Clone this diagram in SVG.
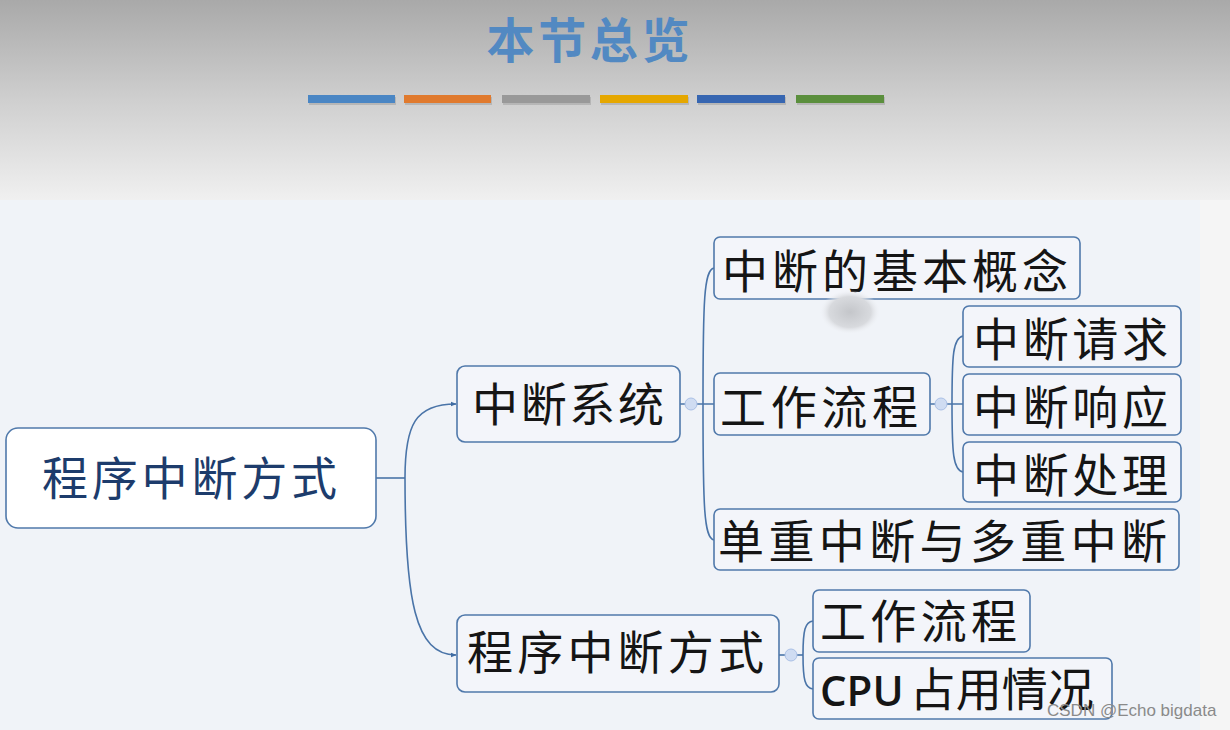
<svg xmlns="http://www.w3.org/2000/svg" width="1230" height="730" viewBox="0 0 1230 730">
  <defs>
    <linearGradient id="topbg" x1="0" y1="0" x2="0" y2="1">
      <stop offset="0" stop-color="#a9a9a9"/>
      <stop offset="0.5" stop-color="#cfcfcf"/>
      <stop offset="1" stop-color="#f0f0f0"/>
    </linearGradient>
    <radialGradient id="blob" cx="0.5" cy="0.5" r="0.5">
      <stop offset="0" stop-color="#c4c6ca"/>
      <stop offset="0.7" stop-color="#d8dade"/>
      <stop offset="1" stop-color="#eef0f4" stop-opacity="0"/>
    </radialGradient>
    <marker id="arrow" viewBox="0 0 10 10" refX="9" refY="5" markerWidth="6" markerHeight="6" orient="auto" markerUnits="userSpaceOnUse">
      <path d="M0,1 L10,5 L0,9 Z" fill="#3f6ca3"/>
    </marker>
    <style>
      .node rect { fill: #f3f5fa; stroke: #5079ab; stroke-width: 1.6; }
      .node text { font-family: "Noto Sans CJK SC", "Noto Sans", sans-serif; font-size: 46px; fill: #151515; }
      #root rect { fill: #ffffff; }
      #root text { fill: #1d3c6c; }
      .conn path { fill: none; stroke: #4a74a8; stroke-width: 1.6; }
      .dot { fill: #cfdcf2; stroke: #aac0e6; stroke-width: 1; }
      .bar-shadow { fill: #000; opacity: 0.12; }
    </style>
  </defs>

  <!-- background -->
  <rect x="0" y="0" width="1230" height="730" fill="#f4f4f4"/>
  <rect x="0" y="0" width="1230" height="200" fill="url(#topbg)"/>
  <rect x="0" y="200" width="1200" height="530" fill="#f0f3f8"/>
  <rect x="1200" y="200" width="30" height="530" fill="#f5f5f5"/>

  <!-- title -->
  <g id="title">
    <text x="588" y="58" text-anchor="middle" font-family="Noto Sans CJK SC, sans-serif" font-size="48" font-weight="700" fill="#5289c2" textLength="203" lengthAdjust="spacing">本节总览</text>
  </g>
  <g id="bars">
    <rect class="bar-shadow" x="309" y="97" width="87" height="8"/>
    <rect x="308" y="95" width="87" height="8" fill="#4a86c4"/>
    <rect class="bar-shadow" x="405" y="97" width="87" height="8"/>
    <rect x="404" y="95" width="87" height="8" fill="#e07a2e"/>
    <rect class="bar-shadow" x="503" y="97" width="88" height="8"/>
    <rect x="502" y="95" width="88" height="8" fill="#999999"/>
    <rect class="bar-shadow" x="601" y="97" width="88" height="8"/>
    <rect x="600" y="95" width="88" height="8" fill="#e5a700"/>
    <rect class="bar-shadow" x="698" y="97" width="88" height="8"/>
    <rect x="697" y="95" width="88" height="8" fill="#3766b1"/>
    <rect class="bar-shadow" x="797" y="97" width="88" height="8"/>
    <rect x="796" y="95" width="88" height="8" fill="#5b8f3d"/>
  </g>

  <!-- connectors -->
  <g id="connectors" class="conn">
    <path d="M376,478 H405"/>
    <path d="M405,478 C405,425 415,404 456,404" marker-end="url(#arrow)"/>
    <path d="M405,478 C405,600 415,655 456,655" marker-end="url(#arrow)"/>

    <path d="M680,404 H714"/>
    <path d="M703,404 C703,300 704,270 714,268"/>
    <path d="M703,404 C703,508 704,538 714,540"/>

    <path d="M930,404 H963"/>
    <path d="M952,404 C952,355 953,338 963,336"/>
    <path d="M952,404 C952,453 953,470 963,472"/>

    <path d="M779,655 H803"/>
    <path d="M803,655 C803,630 805,622 813,621"/>
    <path d="M803,655 C803,680 805,688 813,689"/>

    <circle class="dot" cx="691" cy="404" r="6"/>
    <circle class="dot" cx="941" cy="404" r="6"/>
    <circle class="dot" cx="791" cy="655" r="6"/>
  </g>

  <!-- nodes -->
  <g id="root" class="node">
    <rect x="6" y="428" width="370" height="100" rx="12"/>
    <text x="42" y="495" textLength="295" lengthAdjust="spacing">程序中断方式</text>
  </g>
  <g id="n-system" class="node">
    <rect x="457" y="366" width="223" height="76" rx="8"/>
    <text x="472" y="421" textLength="192" lengthAdjust="spacing">中断系统</text>
  </g>
  <g id="n-mode" class="node">
    <rect x="457" y="615" width="322" height="77" rx="8"/>
    <text x="467" y="669" textLength="297" lengthAdjust="spacing">程序中断方式</text>
  </g>
  <g id="n-concept" class="node">
    <rect x="714" y="237" width="366" height="62" rx="6"/>
    <text x="722" y="288" textLength="346" lengthAdjust="spacing">中断的基本概念</text>
  </g>
  <g id="n-flow1" class="node">
    <rect x="714" y="373" width="216" height="62" rx="6"/>
    <text x="720" y="424" textLength="198" lengthAdjust="spacing">工作流程</text>
  </g>
  <g id="n-request" class="node">
    <rect x="963" y="306" width="218" height="61" rx="6"/>
    <text x="973" y="356" textLength="195" lengthAdjust="spacing">中断请求</text>
  </g>
  <g id="n-response" class="node">
    <rect x="963" y="374" width="218" height="61" rx="6"/>
    <text x="973" y="424" textLength="195" lengthAdjust="spacing">中断响应</text>
  </g>
  <g id="n-handle" class="node">
    <rect x="963" y="442" width="218" height="60" rx="6"/>
    <text x="973" y="492" textLength="195" lengthAdjust="spacing">中断处理</text>
  </g>
  <g id="n-multi" class="node">
    <rect x="714" y="509" width="465" height="61" rx="6"/>
    <text x="718" y="558" textLength="449" lengthAdjust="spacing">单重中断与多重中断</text>
  </g>
  <g id="n-flow2" class="node">
    <rect x="813" y="590" width="217" height="62" rx="6"/>
    <text x="820" y="638" textLength="197" lengthAdjust="spacing">工作流程</text>
  </g>
  <g id="n-cpu" class="node">
    <rect x="813" y="658" width="299" height="61" rx="6"/>
    <text x="820" y="706"><tspan font-family="Open Sans, Noto Sans, sans-serif" font-weight="600" font-size="42">CPU</tspan><tspan dx="6">占用情况</tspan></text>
  </g>

  <!-- smudge -->
  <ellipse cx="850" cy="312" rx="30" ry="22" fill="url(#blob)"/>

  <!-- watermark -->
  <text x="1047" y="716" font-family="Liberation Sans, Arial, sans-serif" font-size="17" fill="#8a8a8a">CSDN @Echo bigdata</text>
</svg>
